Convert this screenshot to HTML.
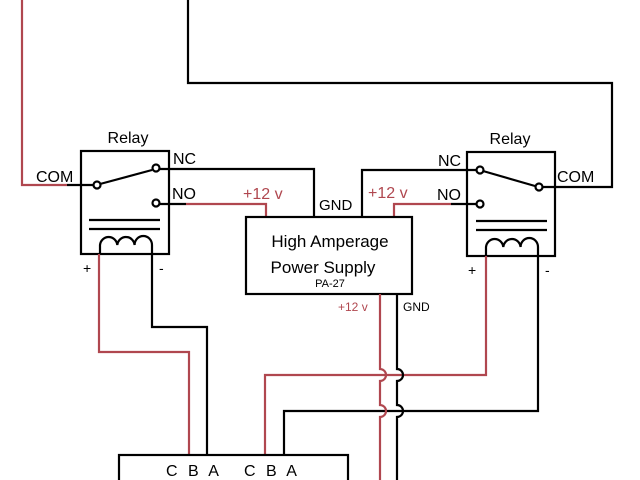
<!DOCTYPE html>
<html><head><meta charset="utf-8"><style>
body{margin:0;background:#fff;}
svg{display:block;font-family:"Liberation Sans","DejaVu Sans",sans-serif;}
</style></head><body>
<svg width="640" height="480" viewBox="0 0 640 480" xmlns="http://www.w3.org/2000/svg">
<g fill="none" stroke-width="2.2">
<!-- top wires -->
<polyline points="22,0 22,185 67,185" stroke="#b0474f"/>
<polyline points="67,185 93,185" stroke="#000"/>
<polyline points="188,0 188,83 612,83 612,187 543,187" stroke="#000"/>
<!-- left relay -->
<rect x="81" y="151" width="88" height="103" stroke="#000"/>
<line x1="100" y1="184" x2="152" y2="170" stroke="#000"/>
<circle cx="97" cy="185" r="3.5" fill="#fff" stroke="#000"/>
<circle cx="156" cy="168" r="3.5" fill="#fff" stroke="#000"/>
<circle cx="156" cy="203" r="3.5" fill="#fff" stroke="#000"/>
<line x1="89" y1="220" x2="160" y2="220" stroke="#000"/>
<line x1="89" y1="229" x2="160" y2="229" stroke="#000"/>
<path d="M100,254 L100,245 A8.7,9 0 0 1 117.3,245 A8.7,9 0 0 1 134.6,245 A8.7,9 0 0 1 152,245 L152,254" stroke="#000"/>
<polyline points="160,169 314,169 314,217" stroke="#000"/>
<polyline points="160,204 186,204" stroke="#000"/>
<polyline points="186,204 266,204 266,217" stroke="#b0474f"/>
<!-- right relay -->
<rect x="467" y="152" width="88" height="104" stroke="#000"/>
<line x1="483" y1="171" x2="535" y2="186" stroke="#000"/>
<circle cx="480" cy="170" r="3.5" fill="#fff" stroke="#000"/>
<circle cx="539" cy="187" r="3.5" fill="#fff" stroke="#000"/>
<circle cx="480" cy="204" r="3.5" fill="#fff" stroke="#000"/>
<line x1="476" y1="221" x2="547" y2="221" stroke="#000"/>
<line x1="476" y1="230" x2="547" y2="230" stroke="#000"/>
<path d="M486,256 L486,247 A8.7,9 0 0 1 503.3,247 A8.7,9 0 0 1 520.6,247 A8.7,9 0 0 1 538,247 L538,256" stroke="#000"/>
<polyline points="476,170 362,170 362,217" stroke="#000"/>
<polyline points="451,204 476,204" stroke="#000"/>
<polyline points="451,204 394,204 394,217" stroke="#b0474f"/>
<!-- power supply -->
<rect x="246" y="217" width="166" height="77" stroke="#000"/>
<!-- coil wires -->
<polyline points="99,254 99,352 189,352 189,455" stroke="#b0474f"/>
<polyline points="152,254 152,327 207,327 207,455" stroke="#000"/>
<polyline points="486,256 486,375 265,375 265,455" stroke="#b0474f"/>
<polyline points="538,256 538,411 284,411 284,455" stroke="#000"/>
<!-- PS outputs with hops -->
<path d="M380,294 L380,369 A6,6 0 0 1 380,381 L380,405 A6,6 0 0 1 380,417 L380,480" stroke="#b0474f"/>
<path d="M397,294 L397,369 A6,6 0 0 1 397,381 L397,405 A6,6 0 0 1 397,417 L397,480" stroke="#000"/>
<!-- bottom box -->
<rect x="119" y="455" width="229" height="40" stroke="#000"/>
</g>
<g font-size="16" fill="#000">
<text x="128" y="143" text-anchor="middle">Relay</text>
<text x="510" y="144" text-anchor="middle">Relay</text>
<text x="36" y="182">COM</text>
<text x="557" y="182">COM</text>
<text x="173" y="164">NC</text>
<text x="172" y="199">NO</text>
<text x="438" y="166">NC</text>
<text x="437" y="200">NO</text>
<text x="319" y="210" font-size="15">GND</text>
<text x="243" y="199" fill="#b0474f">+12 v</text>
<text x="368" y="198" fill="#b0474f">+12 v</text>
<text x="330" y="247" text-anchor="middle" font-size="17">High Amperage</text>
<text x="323" y="273" text-anchor="middle" font-size="17">Power Supply</text>
<text x="330" y="287" text-anchor="middle" font-size="11">PA-27</text>
<text x="83" y="273" font-size="14">+</text>
<text x="159" y="273" font-size="14">-</text>
<text x="468" y="275" font-size="14">+</text>
<text x="545" y="275" font-size="14">-</text>
<text x="338" y="311" font-size="12" fill="#b0474f">+12 v</text>
<text x="403" y="311" font-size="12">GND</text>
<text x="166" y="476" font-size="16" letter-spacing="3">C B A</text>
<text x="244" y="476" font-size="16" letter-spacing="3">C B A</text>
</g>
</svg>
</body></html>
